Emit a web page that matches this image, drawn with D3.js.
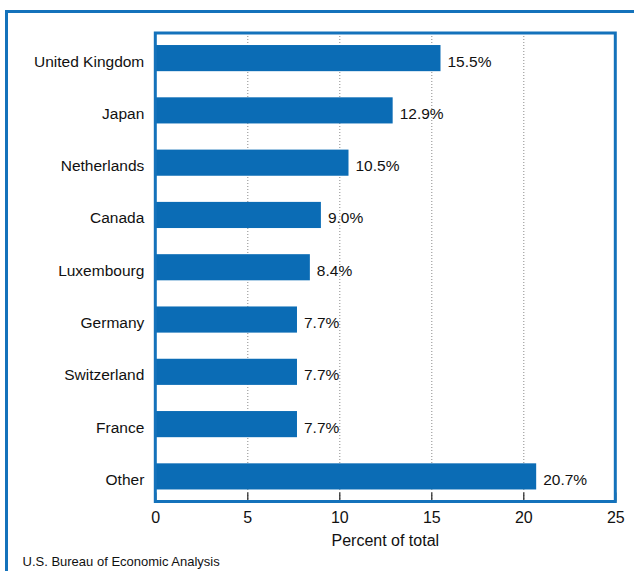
<!DOCTYPE html>
<html>
<head>
<meta charset="utf-8">
<script src="https://cdn.jsdelivr.net/npm/d3@7"></script>
<style>
  html, body { margin: 0; padding: 0; background: #fff; }
  svg { display: block; }
  text { font-family: "Liberation Sans", Arial, Helvetica, sans-serif; fill: #111; }
</style>
</head>
<body>
<svg id="chart" width="634" height="571"></svg>
<script>
// Share of total by country
const countries = ["United Kingdom", "Japan", "Netherlands", "Canada", "Luxembourg",
                   "Germany", "Switzerland", "France", "Other"];
const shares = [15.5, 12.9, 10.5, 9.0, 8.4, 7.7, 7.7, 7.7, 20.7];
const xTicks = [0, 5, 10, 15, 20, 25];
const xTitle = "Percent of total";
const sourceNote = "U.S. Bureau of Economic Analysis";

const BLUE = "#0b6cb5";
const FRAME_BLUE = "#1472bb";

const svg = d3.select("#chart");

// plot frame bounds
const frame = { left: 155.3, right: 615.3, top: 33, bottom: 501.5 };

const x = d3.scaleLinear().domain([0, 25]).range([frame.left, frame.right]);
const y = d3.scaleBand().domain(countries).range([frame.top, frame.bottom])
  .paddingInner(0.5).paddingOuter(0.23);

// outer panel border (continues past the right and bottom edges)
svg.append("rect")
  .attr("x", 6.5).attr("y", 11.5)
  .attr("width", 700).attr("height", 700)
  .attr("fill", "none").attr("stroke", FRAME_BLUE).attr("stroke-width", 3);

// dotted vertical gridlines
svg.append("g").selectAll("line")
  .data(xTicks.filter(t => t > 0 && t < 25))
  .join("line")
  .attr("x1", d => x(d) + 0.5).attr("x2", d => x(d) + 0.5)
  .attr("y1", frame.top).attr("y2", frame.bottom)
  .attr("stroke", "#8a8a8a").attr("stroke-width", 1)
  .attr("stroke-dasharray", "1,2");

// bars
svg.append("g").selectAll("rect")
  .data(countries)
  .join("rect")
  .attr("x", x(0))
  .attr("y", d => y(d))
  .attr("width", (d, i) => x(shares[i]) - x(0))
  .attr("height", y.bandwidth())
  .attr("fill", BLUE);

// value labels
svg.append("g").selectAll("text")
  .data(countries)
  .join("text")
  .attr("x", (d, i) => x(shares[i]) + 7)
  .attr("y", d => y(d) + y.bandwidth() / 2 + 8.5)
  .attr("font-size", 15.5)
  .text((d, i) => shares[i].toFixed(1) + "%");

// category labels
svg.append("g").selectAll("text")
  .data(countries)
  .join("text")
  .attr("x", frame.left - 11)
  .attr("y", d => y(d) + y.bandwidth() / 2 + 8.5)
  .attr("text-anchor", "end")
  .attr("font-size", 15.5)
  .text(d => d);

// x axis: ticks point up into the plot
const xAxis = d3.axisBottom(x).tickValues(xTicks).tickSize(-9).tickPadding(10)
  .tickFormat(d3.format("d"));
const gx = svg.append("g").attr("transform", `translate(0,${frame.bottom})`).call(xAxis);
gx.select(".domain").remove();
gx.selectAll(".tick line").attr("stroke", "#222").attr("stroke-width", 1.2);
gx.selectAll(".tick text")
  .attr("font-size", 16)
  .attr("font-family", "'Liberation Sans', Arial, Helvetica, sans-serif")
  .attr("fill", "#111");

// plot frame on top
svg.append("rect")
  .attr("x", frame.left).attr("y", frame.top)
  .attr("width", frame.right - frame.left).attr("height", frame.bottom - frame.top)
  .attr("fill", "none").attr("stroke", FRAME_BLUE).attr("stroke-width", 3);

// axis title
svg.append("text")
  .attr("x", (frame.left + frame.right) / 2)
  .attr("y", 546)
  .attr("text-anchor", "middle")
  .attr("font-size", 16)
  .text(xTitle);

// source note
svg.append("text")
  .attr("x", 22.5)
  .attr("y", 566)
  .attr("font-size", 13)
  .text(sourceNote);
</script>
</body>
</html>
